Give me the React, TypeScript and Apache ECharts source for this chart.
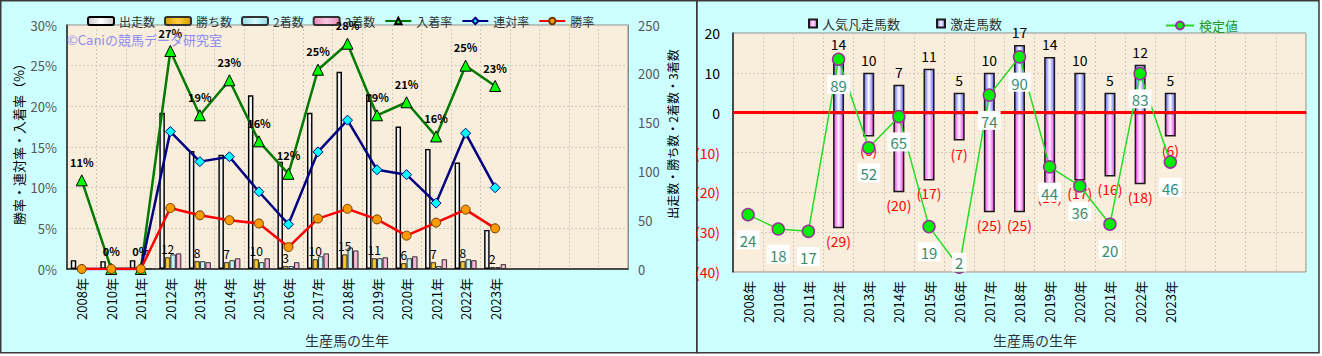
import { useEffect, useRef } from 'react';
import * as echarts from 'echarts';

const FONT = '"Noto Sans CJK JP", "Noto Sans", sans-serif';

const years = ['2008年', '2010年', '2011年', '2012年', '2013年', '2014年', '2015年', '2016年', '2017年', '2018年', '2019年', '2020年', '2021年', '2022年', '2023年', '', '', '', ''];

// left panel
const starts = [9, 8, 9, 160, 121, 117, 178, 110, 160, 202, 179, 146, 123, 109, 40];
const wins = [0, 0, 0, 12, 8, 7, 10, 3, 10, 15, 11, 6, 7, 8, 2];
const seconds = [0, 0, 0, 15, 8, 9, 7, 3, 13, 22, 11, 11, 3, 10, 2];
const thirds = [1, 0, 0, 16, 7, 11, 11, 7, 16, 19, 12, 13, 10, 9, 5];
const placeRate = [10.9, 0, 0, 26.8, 18.9, 23.2, 15.7, 11.7, 24.5, 27.7, 18.9, 20.5, 16.3, 25.0, 22.5];
const quinellaRate = [0, 0, 0, 16.9, 13.2, 13.8, 9.5, 5.5, 14.4, 18.3, 12.2, 11.6, 8.1, 16.7, 10.0];
const winRate = [0, 0, 0, 7.5, 6.6, 6.0, 5.6, 2.7, 6.2, 7.4, 6.1, 4.1, 5.7, 7.3, 5.0];

// right panel
const surprise = [null, null, null, 14, 10, 7, 11, 5, 10, 17, 14, 10, 5, 12, 5];
const flop = [null, null, null, -29, -6, -20, -17, -7, -25, -25, -18, -17, -16, -18, -6];
const testValue = [24, 18, 17, 89, 52, 65, 19, 2, 74, 90, 44, 36, 20, 83, 46];

const hGrad = (edge: string, mid: string) => ({
  type: 'linear', x: 0, y: 0, x2: 1, y2: 0,
  colorStops: [
    { offset: 0, color: edge },
    { offset: 0.5, color: mid },
    { offset: 1, color: edge },
  ],
});

export default function App() {
  const ref = useRef<HTMLDivElement>(null);
  useEffect(() => {
    document.body.style.margin = '0';
    const chart = echarts.init(ref.current!, null, { renderer: 'svg' });
    const split = { show: true, lineStyle: { color: '#CFCAC0', type: [2, 2], width: 1 } };
    const xCommon = {
      type: 'category',
      data: years,
      axisTick: { show: false },
      axisLine: { show: true, lineStyle: { color: '#222', width: 1.5 } },
      axisLabel: { rotate: 90, color: '#000', fontSize: 13, margin: 9, interval: 0, fontFamily: FONT },
      splitLine: { ...split, interval: 0 },
    };
    const option: any = {
      animation: false,
      backgroundColor: '#FFFFFF',
      textStyle: { fontFamily: FONT },
      graphic: [
        { type: 'rect', z: -10, shape: { x: 0.75, y: 0.75, width: 696, height: 352 }, style: { fill: '#CCFFFF', stroke: '#3A3A3A', lineWidth: 1.5 } },
        { type: 'rect', z: -10, shape: { x: 697, y: 0.75, width: 622, height: 352 }, style: { fill: '#CCFFFF', stroke: '#3A3A3A', lineWidth: 1.5 } },
        { type: 'text', z: 50, x: 67, y: 39, style: { text: '©Caniの競馬データ研究室', fill: '#8C8CF2', font: `13px ${FONT}`, textVerticalAlign: 'middle', verticalAlign: 'middle' } },
        { type: 'text', z: 50, x: 18, y: 141, rotation: Math.PI / 2, style: { text: '勝率・連対率・入着率（%）', fill: '#000', font: `13px ${FONT}`, textAlign: 'center', align: 'center', textVerticalAlign: 'middle', verticalAlign: 'middle' } },
        { type: 'text', z: 50, x: 672, y: 134, rotation: Math.PI / 2, style: { text: '出走数・勝ち数・2着数・3着数', fill: '#000', font: `12px ${FONT}`, textAlign: 'center', align: 'center', textVerticalAlign: 'middle', verticalAlign: 'middle' } },
        { type: 'text', z: 50, x: 347, y: 340, style: { text: '生産馬の生年', fill: '#333', font: `14px ${FONT}`, textAlign: 'center', align: 'center', textVerticalAlign: 'middle', verticalAlign: 'middle' } },
        { type: 'text', z: 50, x: 1035, y: 340, style: { text: '生産馬の生年', fill: '#333', font: `14px ${FONT}`, textAlign: 'center', align: 'center', textVerticalAlign: 'middle', verticalAlign: 'middle' } },
      ],
      legend: [
        {
          data: ['出走数', '勝ち数', '2着数', '3着数', '入着率', '連対率', '勝率'],
          left: 82, top: 10, itemWidth: 26, itemHeight: 8, itemGap: 9,
          textStyle: { fontSize: 12, color: '#333', fontFamily: FONT },
        },
        {
          data: ['人気凡走馬数', '激走馬数'],
          left: 803, top: 12, itemWidth: 8, itemHeight: 8, itemGap: 36, icon: 'rect',
          textStyle: { fontSize: 13, color: '#333', fontFamily: FONT },
        },
        {
          data: ['検定値'],
          left: 1160, top: 14, itemWidth: 28, itemHeight: 10,
          textStyle: { fontSize: 13, color: '#229922', fontFamily: FONT },
        },
      ],
      grid: [
        { left: 67, top: 25, width: 561, height: 244, show: true, backgroundColor: '#F9EEDB', borderColor: '#8A8A8A', borderWidth: 1 },
        { left: 733, top: 33, width: 573, height: 239, show: true, backgroundColor: '#F9EEDB', borderColor: '#8A8A8A', borderWidth: 1 },
      ],
      xAxis: [
        { ...xCommon, gridIndex: 0 },
        { ...xCommon, gridIndex: 1 },
      ],
      yAxis: [
        {
          gridIndex: 0, type: 'value', min: 0, max: 30, interval: 5,
          axisLine: { show: true, lineStyle: { color: '#222', width: 1.5 } },
          axisTick: { show: false },
          axisLabel: { formatter: '{value}%', color: '#555', fontSize: 13, margin: 10 },
          splitLine: split,
        },
        {
          gridIndex: 0, type: 'value', position: 'right', min: 0, max: 250, interval: 50,
          axisLine: { show: true, lineStyle: { color: '#8A8A8A', width: 1 } },
          axisTick: { show: false },
          axisLabel: { color: '#555', fontSize: 13, margin: 10 },
          splitLine: { show: false },
        },
        {
          gridIndex: 1, type: 'value', min: -40, max: 20, interval: 10,
          axisLine: { show: true, lineStyle: { color: '#222', width: 1.5 } },
          axisTick: { show: false },
          axisLabel: {
            fontSize: 14, margin: 13,
            formatter: (v: number) => (v < 0 ? `(${-v})` : `${v}`),
            color: (v: any) => (Number(v) < 0 ? '#FF0000' : '#000'),
          },
          splitLine: split,
        },
        {
          gridIndex: 1, type: 'value', min: 0, max: 100, show: false,
          splitLine: { show: false },
        },
      ],
      series: [
        {
          name: '出走数', type: 'bar', xAxisIndex: 0, yAxisIndex: 1, data: starts,
          barWidth: 5.5, barGap: '0%',
          itemStyle: { color: hGrad('#C8C8C8', '#FFFFFF'), borderColor: '#000', borderWidth: 1.4 },
        },
        {
          name: '勝ち数', type: 'bar', xAxisIndex: 0, yAxisIndex: 1, data: wins,
          barWidth: 5.5, barGap: '0%',
          itemStyle: { color: hGrad('#D89A00', '#FFD040'), borderColor: '#333', borderWidth: 1 },
          label: { show: true, position: 'top', distance: 3, fontSize: 12, color: '#000', formatter: (p: any) => (p.value > 0 ? `${p.value}` : '') },
        },
        {
          name: '2着数', type: 'bar', xAxisIndex: 0, yAxisIndex: 1, data: seconds,
          barWidth: 5.5, barGap: '0%',
          itemStyle: { color: hGrad('#90DCE4', '#D8FAFA'), borderColor: '#333', borderWidth: 1 },
        },
        {
          name: '3着数', type: 'bar', xAxisIndex: 0, yAxisIndex: 1, data: thirds,
          barWidth: 5.5, barGap: '0%',
          itemStyle: { color: hGrad('#E888BC', '#F8C8E0'), borderColor: '#333', borderWidth: 1 },
        },
        {
          name: '入着率', type: 'line', xAxisIndex: 0, yAxisIndex: 0, data: placeRate, z: 5,
          lineStyle: { color: '#007A00', width: 2.5 },
          symbol: 'triangle', symbolSize: 11,
          itemStyle: { color: '#00FF00', borderColor: '#000', borderWidth: 1 },
          label: { show: true, position: 'top', distance: 7, fontSize: 11, fontWeight: 'bold', color: '#000', formatter: (p: any) => `${Math.round(p.value)}%` },
        },
        {
          name: '連対率', type: 'line', xAxisIndex: 0, yAxisIndex: 0, data: quinellaRate, z: 6,
          lineStyle: { color: '#000080', width: 2.5 },
          symbol: 'diamond', symbolSize: 10,
          itemStyle: { color: '#00FFFF', borderColor: '#000080', borderWidth: 1 },
        },
        {
          name: '勝率', type: 'line', xAxisIndex: 0, yAxisIndex: 0, data: winRate, z: 7,
          lineStyle: { color: '#FF0000', width: 2.5 },
          symbol: 'circle', symbolSize: 9,
          itemStyle: { color: '#FF9900', borderColor: '#6A3A00', borderWidth: 1 },
        },
        {
          name: '激走馬数', type: 'bar', xAxisIndex: 1, yAxisIndex: 2, data: surprise, stack: 'r',
          barWidth: 11,
          itemStyle: { color: hGrad('#6464FF', '#FFFFFF'), borderColor: '#1A1A1A', borderWidth: 1.5 },
          label: { show: true, position: 'top', distance: 6, fontSize: 14, color: '#000' },
          markLine: {
            silent: true, symbol: 'none', label: { show: false },
            lineStyle: { color: '#FF0000', width: 3, type: 'solid' },
            data: [{ yAxis: 0 }],
          },
        },
        {
          name: '人気凡走馬数', type: 'bar', xAxisIndex: 1, yAxisIndex: 2, data: flop, stack: 'r',
          barWidth: 11,
          itemStyle: { color: hGrad('#F040F0', '#FFF0FF'), borderColor: '#1A1A1A', borderWidth: 1.5 },
          label: { show: true, position: 'bottom', distance: 6, fontSize: 14, color: '#FF0000', formatter: (p: any) => `(${-p.value})` },
        },
        {
          name: '検定値', type: 'line', xAxisIndex: 1, yAxisIndex: 3, z: 10,
          data: testValue.map((v, i) =>
            i === 7 ? { value: v, label: { position: 'inside', offset: [0, -5] } } : v
          ),
          lineStyle: { color: '#22DD22', width: 1.5 },
          symbol: 'circle', symbolSize: 12,
          itemStyle: { color: '#00EE00', borderColor: '#993399', borderWidth: 1.5 },
          label: {
            show: true, position: 'bottom', distance: 9, fontSize: 15, color: '#3A8C6C',
            backgroundColor: '#FFFFFF', padding: [3, 3, 1, 3],
          },
        },
      ],
    };
    chart.setOption(option);
    return () => chart.dispose();
  }, []);
  return <div ref={ref} style={{ width: 1322, height: 356 }} />;
}
